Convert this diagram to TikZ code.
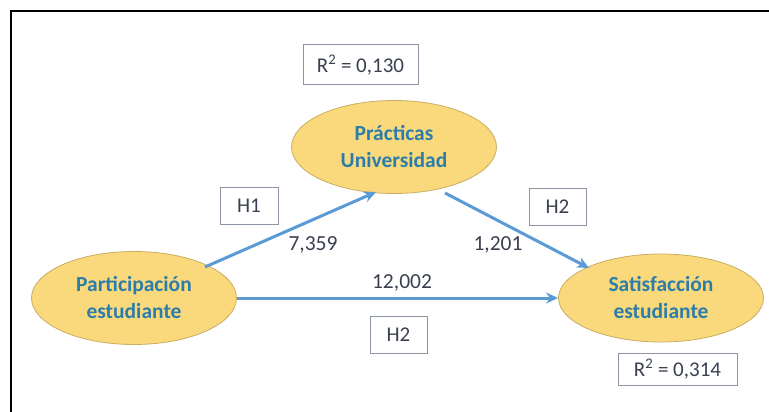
\documentclass[tikz,border=0pt]{standalone}
\usepackage{fontspec}
\setmainfont{Carlito}
\usetikzlibrary{shapes.geometric,arrows.meta}
\definecolor{ellfill}{HTML}{F9D97B}
\definecolor{elldraw}{HTML}{C9AE62}
\definecolor{elltext}{HTML}{2C7DAA}
\definecolor{arrowc}{HTML}{5B9BD5}
\definecolor{boxdraw}{HTML}{8C96A3}
\definecolor{boxtext}{HTML}{3A4050}
\tikzset{
  latent/.style={ellipse, fill=ellfill, draw=elldraw, line width=0.8pt,
    minimum width=205pt, minimum height=93pt, inner sep=0pt,
    text=elltext, font=\fontsize{21.5}{27}\selectfont\bfseries, align=center},
  hbox/.style={rectangle, draw=boxdraw, line width=1pt, fill=white,
    text=boxtext, font=\fontsize{21}{25}\selectfont, inner sep=0pt},
  path/.style={draw=arrowc, line width=3pt, -{Stealth[length=12pt,width=11pt]}},
  coef/.style={text=boxtext, font=\fontsize{21.5}{25}\selectfont, inner sep=0pt}
}
\begin{document}
\begin{tikzpicture}[x=1pt,y=-1pt]
\useasboundingbox (0,0) rectangle (769,412);
\fill[white] (0,0) rectangle (769,412);
\coordinate (ftl) at (11,11);
\coordinate (ftr) at (769,11);
\coordinate (fbl) at (11,412);
\draw[line width=2.2pt, line cap=rect] (ftr) -- (ftl) -- (fbl);

\node[latent] (prac) at (394,147) {Prácticas\\Universidad};
\node[latent] (part) at (134,298) {Participación\\estudiante};
\node[latent, minimum height=88pt] (sat) at (661,298) {Satisfacción\\estudiante};

\node[hbox, minimum width=115pt, minimum height=40pt] (r1) at (360.5,65) {R\textsuperscript{2} = 0,130};
\node[hbox, minimum width=119pt, minimum height=32pt] (r2) at (677.5,369) {R\textsuperscript{2} = 0,314};
\node[hbox, minimum width=58pt, minimum height=37pt] (h1) at (249,205.5) {H1};
\node[hbox, minimum width=57pt, minimum height=37pt] (h2a) at (557.5,206.5) {H2};
\node[hbox, minimum width=57pt, minimum height=37pt] (h2b) at (398.5,334.5) {H2};

\coordinate (a1s) at (205,267);
\coordinate (a1e) at (376,192);
\coordinate (a2s) at (445,193);
\coordinate (a2e) at (589,268);
\draw[path] (a1s) -- (a1e);
\draw[path] (a2s) -- (a2e);
\draw[path] (part.east) -- (sat.west);

\node[coef] (c1) at (313,245) {7,359};
\node[coef] (c2) at (402,283) {12,002};
\node[coef] (c3) at (498,245) {1,201};
\end{tikzpicture}
\end{document}
